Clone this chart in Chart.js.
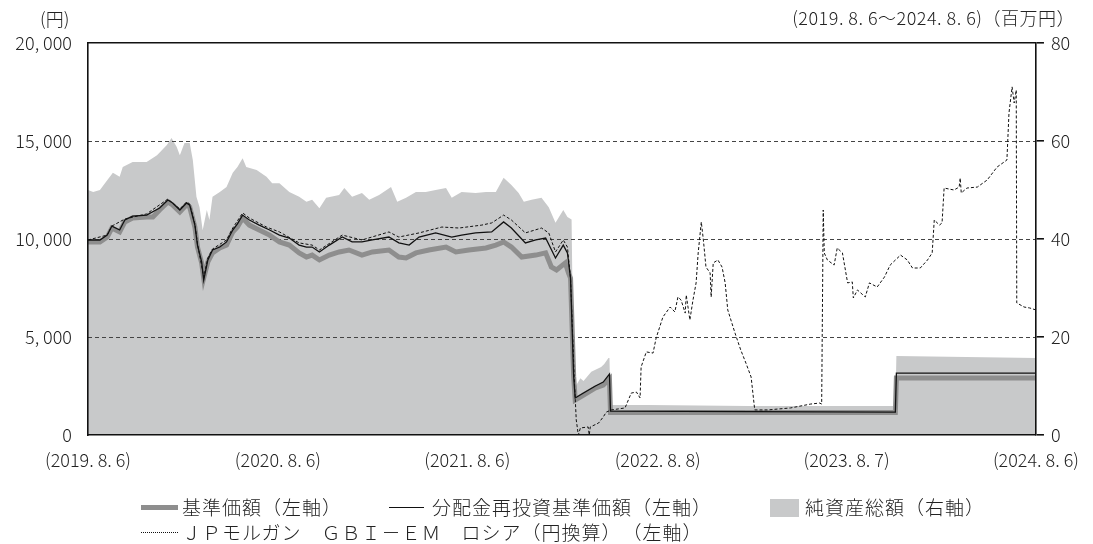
<!DOCTYPE html>
<html><head><meta charset="utf-8">
<script src="https://cdn.jsdelivr.net/npm/chart.js@4.4.1/dist/chart.umd.min.js"></script>
<style>
html,body{margin:0;padding:0;background:#fff;}
#wrap{position:relative;width:1093px;height:544px;overflow:hidden;font-family:"Noto Sans CJK JP","Noto Sans",sans-serif;color:#222;font-weight:300;}
#c{position:absolute;left:0;top:0;}
.t{position:absolute;white-space:nowrap;font-size:18px;line-height:18px;}
.lg{font-size:19px;letter-spacing:1px;}
.sw{position:absolute;}
</style>
</head><body>
<div id="wrap">
<canvas id="c" width="1093" height="544"></canvas>
<div class="t" style="left:40px;top:9px;">(円)</div>
<div class="t" style="right:18px;top:8px;letter-spacing:0.5px;">(2019. 8. 6～2024. 8. 6)（百万円）</div>
<div class="sw" style="left:141px;top:505px;width:37px;height:5px;background:#8e8e8e;"></div>
<div class="t lg" style="left:182px;top:498px;">基準価額（左軸）</div>
<div class="sw" style="left:389px;top:507px;width:35px;height:0;border-top:1.5px solid #111;"></div>
<div class="t lg" style="left:432px;top:498px;">分配金再投資基準価額（左軸）</div>
<div class="sw" style="left:770px;top:499px;width:29px;height:18px;background:#c8c9ca;"></div>
<div class="t lg" style="left:805px;top:498px;">純資産総額（右軸）</div>
<div class="sw" style="left:141px;top:532px;width:37px;height:0;border-top:1px dotted #111;"></div>
<div class="t lg" style="left:182px;top:523px;">ＪＰモルガン　ＧＢＩ－ＥＭ　ロシア（円換算）　（左軸）</div>
</div>
<script>
// x values: days since 2019-08-06
const tickDays = [0, 366, 731, 1098, 1462, 1827];
const tickLabels = ['(2019. 8. 6)', '(2020. 8. 6)', '(2021. 8. 6)', '(2022. 8. 8)', '(2023. 8. 7)', '(2024. 8. 6)'];

// 純資産総額（百万円, right axis）
const navDays = [0,10,23,37,48,61,67,86,113,133,152,161,171,177,186,196,202,209,215,221,229,234,240,254,267,279,288,298,305,325,344,355,369,388,407,421,432,446,459,484,494,509,528,542,561,584,596,613,632,651,670,690,701,720,747,767,786,801,816,830,840,855,874,888,901,916,924,932,936,939,949,955,970,978,989,995,1003,1005,1007,1080,1272,1556,1558,1827];
const navValues = [50.0,49.6,50.0,52.0,53.5,52.7,54.7,55.7,55.7,57.1,59.2,60.6,58.8,57.1,59.6,59.6,56.1,48.6,46.5,41.8,45.9,43.9,48.6,49.6,50.6,53.5,54.7,56.5,54.7,54.1,52.7,51.4,51.4,49.6,48.6,47.6,48.0,46.3,48.4,49.0,50.4,48.6,49.4,48.0,49.0,50.6,47.6,48.4,49.6,49.6,50.0,50.4,48.4,49.6,49.4,49.6,49.6,52.5,51.0,49.4,47.6,48.0,48.4,46.5,43.3,45.9,44.5,44.0,10.0,9.8,11.6,11.0,12.9,13.3,13.9,14.5,15.7,15.7,6.1,6.1,5.9,5.9,16.1,15.7];

// 基準価額（円, left axis）
const baseDays = [0,23,37,46,61,71,86,113,125,138,154,163,177,190,196,206,211,219,223,231,240,254,267,279,288,298,311,330,350,369,388,407,421,432,446,465,484,503,528,548,580,599,613,632,657,690,709,734,767,786,801,816,836,863,882,893,903,920,926,930,936,939,955,978,993,1005,1007,1556,1558,1827];
const baseValues = [9850,9850,10100,10560,10360,10870,11070,11120,11120,11480,11890,11740,11380,11740,11630,10610,9590,8780,8010,8830,9290,9540,9690,10360,10610,11070,10710,10460,10200,9850,9690,9290,9080,9180,8930,9180,9340,9440,9180,9340,9440,9080,9030,9290,9440,9590,9340,9440,9540,9690,9850,9590,9080,9180,9290,8570,8420,8780,8270,8000,3000,1790,2040,2400,2550,2860,1150,1150,2910,2910];

// 分配金再投資基準価額（円, left axis）
const reinvDays = [0,23,37,46,61,71,86,113,138,154,163,177,190,196,206,211,219,223,231,240,254,267,279,288,298,311,330,350,369,388,407,421,432,446,465,490,509,528,548,580,599,619,638,670,701,720,747,778,801,816,843,863,882,901,916,924,930,936,939,955,978,993,1005,1007,1556,1558,1827];
const reinvValues = [9950,9950,10200,10660,10460,10970,11170,11220,11580,11990,11840,11480,11840,11730,10710,9690,8830,7900,8930,9440,9590,9850,10460,10770,11220,10970,10710,10460,10200,10050,9690,9590,9590,9340,9690,10100,9850,9850,9950,10100,9800,9690,10100,10310,10100,10200,10310,10360,10870,10560,9800,9950,10050,9030,9690,9290,8000,3000,1890,2140,2500,2700,3110,1220,1170,3160,3160];

// ＪＰモルガン ＧＢＩ－ＥＭ ロシア（円換算, left axis）
const indexDays = [0,37,46,71,113,154,177,190,196,206,211,223,231,240,267,279,298,311,344,369,407,432,446,490,528,580,599,638,682,715,759,778,801,816,843,874,888,901,916,924,930,937,941,945,949,964,966,968,984,993,999,1009,1035,1047,1057,1064,1066,1076,1089,1095,1108,1122,1131,1137,1143,1151,1153,1160,1166,1172,1176,1182,1186,1191,1199,1201,1205,1214,1222,1228,1233,1247,1258,1268,1278,1285,1310,1354,1393,1410,1414,1417,1419,1425,1438,1444,1454,1464,1473,1475,1483,1498,1506,1521,1535,1546,1566,1579,1589,1604,1618,1627,1631,1641,1646,1650,1669,1679,1681,1683,1694,1714,1733,1752,1771,1775,1781,1785,1789,1790,1804,1815,1827];
const indexValues = [9950,10200,10660,11020,11280,12040,11530,11890,11790,10770,9750,8060,9030,9490,9950,10560,11330,11070,10610,10360,9800,9690,9440,10200,9950,10360,10100,10310,10610,10560,10710,10820,11220,10970,10310,10560,10310,9340,9950,9590,8000,3000,770,0,360,410,0,410,610,920,1170,1280,1380,2140,2190,1890,3470,4240,4180,4950,6020,6530,6280,7040,6890,6220,7140,5870,6890,7760,9290,10870,9950,8570,8270,7040,8780,8930,8570,7760,6380,5200,4340,3670,2960,1280,1280,1380,1580,1630,1580,11480,9290,8930,8670,9540,9290,7760,7810,6990,7400,7040,7760,7550,8060,8670,9180,8930,8520,8520,8930,9290,10970,10710,10820,12600,12500,12650,13110,12350,12600,12650,13010,13670,14030,16430,17760,16940,17600,6740,6530,6480,6380];

const leftTicks = {min: 0, max: 20000, step: 5000};
const rightTicks = {min: 0, max: 80, step: 20};

function pts(days, vals) { return days.map((d, i) => ({x: d, y: vals[i]})); }

const FONT = '"Noto Sans CJK JP", "Noto Sans", sans-serif';
const TXT = '#222';
const tickFont = {family: FONT, size: 18, weight: '300'};

const dashGrid = {
  id: 'dashGrid',
  afterDatasetDraw(chart, args) {
    if (args.index !== 3) return;
    const ys = chart.scales.y;
    const {left, right} = chart.chartArea;
    const c = chart.ctx;
    c.save();
    c.strokeStyle = '#444';
    c.lineWidth = 1.2;
    c.setLineDash([4, 3]);
    ys.ticks.forEach(t => {
      if (t.value <= ys.min || t.value >= ys.max) return;
      const y = Math.round(ys.getPixelForValue(t.value)) + 0.5;
      c.beginPath(); c.moveTo(left, y); c.lineTo(right, y); c.stroke();
    });
    c.restore();
  }
};

const borderOpt = {display: true, color: '#111', width: 1.6, z: 2};

new Chart(document.getElementById('c'), {
  type: 'line',
  data: {
    datasets: [
      {label: 'ＪＰモルガン　ＧＢＩ－ＥＭ　ロシア（円換算）（左軸）', data: pts(indexDays, indexValues), yAxisID: 'y',
       borderColor: '#111', borderWidth: 1, borderDash: [3, 2], pointRadius: 0, tension: 0, fill: false},
      {label: '分配金再投資基準価額（左軸）', data: pts(reinvDays, reinvValues), yAxisID: 'y',
       borderColor: '#111', borderWidth: 1.3, pointRadius: 0, tension: 0, fill: false},
      {label: '基準価額（左軸）', data: pts(baseDays, baseValues), yAxisID: 'y',
       borderColor: '#8e8e8e', borderWidth: 5, pointRadius: 0, tension: 0, fill: false},
      {label: '純資産総額（右軸）', data: pts(navDays, navValues), yAxisID: 'y1',
       borderColor: 'rgba(0,0,0,0)', borderWidth: 0, backgroundColor: '#c8c9ca', pointRadius: 0, tension: 0, fill: 'origin'}
    ]
  },
  options: {
    responsive: false,
    animation: false,
    layout: {padding: 0},
    plugins: {legend: {display: false}, tooltip: {enabled: false}},
    scales: {
      x: {
        type: 'linear', position: 'bottom', min: 0, max: 1827,
        afterBuildTicks: s => { s.ticks = tickDays.map(v => ({value: v})); },
        ticks: {callback: (v, i) => tickLabels[i], font: tickFont, color: TXT, padding: 14, maxRotation: 0, autoSkip: false},
        grid: {display: false, drawTicks: false},
        border: borderOpt,
        afterFit: s => { s.height = 109; }
      },
      xTop: {
        type: 'linear', position: 'top', min: 0, max: 1827,
        ticks: {display: false},
        grid: {display: false, drawTicks: false},
        border: borderOpt,
        afterFit: s => { s.height = 43; }
      },
      y: {
        position: 'left', min: leftTicks.min, max: leftTicks.max,
        ticks: {stepSize: leftTicks.step, callback: v => v === 0 ? '0' : (v / 1000) + ', 000', font: tickFont, color: TXT, padding: 16},
        grid: {display: false, drawTicks: false},
        border: borderOpt,
        afterFit: s => { s.width = 88; }
      },
      y1: {
        position: 'right', min: rightTicks.min, max: rightTicks.max,
        ticks: {stepSize: rightTicks.step, font: tickFont, color: TXT, padding: 7},
        grid: {drawOnChartArea: false, drawTicks: true, tickLength: 8, color: '#111', lineWidth: 1.6},
        border: borderOpt,
        afterFit: s => { s.width = 54; }
      }
    }
  },
  plugins: [dashGrid]
});
</script>
</body></html>
